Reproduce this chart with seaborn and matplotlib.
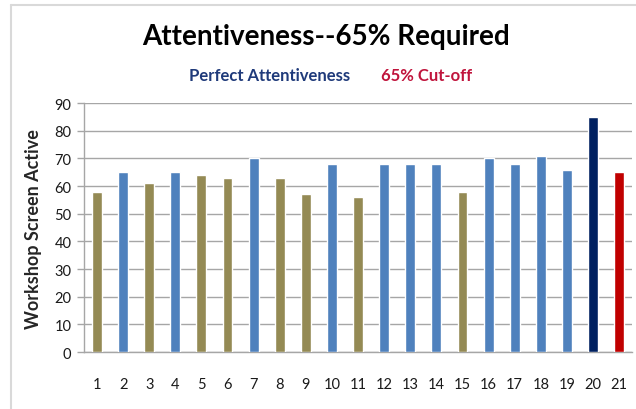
import matplotlib
matplotlib.use("Agg")
import matplotlib.pyplot as plt
import pandas as pd
import seaborn as sns
from matplotlib.lines import Line2D

# data
sessions = [str(i) for i in range(1, 22)]
screen_active = [58, 65, 61, 65, 64, 63, 70, 63, 57, 68, 56,
                 68, 68, 68, 58, 70, 68, 71, 66, 85, 65]
cutoff = 65

kinds = []
for s, v in zip(sessions, screen_active):
    if s == "20":
        kinds.append("Perfect")
    elif s == "21":
        kinds.append("Cut-off")
    elif v < cutoff:
        kinds.append("Below")
    else:
        kinds.append("Met")

df = pd.DataFrame({"session": sessions, "active": screen_active, "kind": kinds})
palette = {"Below": "#948A54", "Met": "#4F81BD", "Perfect": "#002060", "Cut-off": "#C00000"}

sns.set_style("white")
plt.rcParams["font.family"] = ["Lato", "DejaVu Sans"]

fig = plt.figure(figsize=(6.36, 4.10), dpi=100)
ax = fig.add_axes([0.132, 0.139, 0.862, 0.607])

sns.barplot(data=df, x="session", y="active", hue="kind", palette=palette,
            dodge=False, width=0.38, saturation=1, legend=False, ax=ax, zorder=3)

ax.set_xlim(-0.5, 20.5)
ax.set_ylim(0, 90)
ax.set_yticks(range(0, 91, 10))
ax.yaxis.grid(True, color="#A6A6A6", linewidth=1.0, zorder=0)
ax.set_axisbelow(True)
for side in ["top", "right"]:
    ax.spines[side].set_visible(False)
for side in ["left", "bottom"]:
    ax.spines[side].set_color("#A6A6A6")
    ax.spines[side].set_linewidth(1.0)

ax.set_xticks(range(21), minor=False)
ax.set_xticks([i - 0.5 for i in range(22)], minor=True)
ax.tick_params(axis="x", which="major", length=0, pad=18, labelsize=10.5, colors="#1a1a1a")
ax.tick_params(axis="x", which="minor", length=5, width=1, color="#A6A6A6", direction="out")
ax.tick_params(axis="y", length=5, width=1, labelsize=10.5, labelcolor="#1a1a1a",
               color="#A6A6A6", pad=4, left=True)
ax.set_xlabel("")
ax.set_ylabel("Workshop Screen Active", fontsize=13, fontweight="bold", labelpad=9)

fig.text(0.513, 0.91, "Attentiveness--65% Required", ha="center", va="center",
         fontsize=20, fontweight="bold", color="black")
fig.text(0.424, 0.815, "Perfect Attentiveness", ha="center", va="center",
         fontsize=12, fontweight="bold", color="#1F3A7A")
fig.text(0.67, 0.815, "65% Cut-off", ha="center", va="center",
         fontsize=12, fontweight="bold", color="#C0143C")

# light frame lines of the original chart area
fig.add_artist(Line2D([11 / 636, 1], [1 - 6 / 410, 1 - 6 / 410], transform=fig.transFigure,
                      color="#D9D9D9", linewidth=1.5))
fig.add_artist(Line2D([11 / 636, 11 / 636], [0, 1 - 6 / 410], transform=fig.transFigure,
                      color="#D9D9D9", linewidth=1.5))

fig.savefig("out.png", dpi=100)
